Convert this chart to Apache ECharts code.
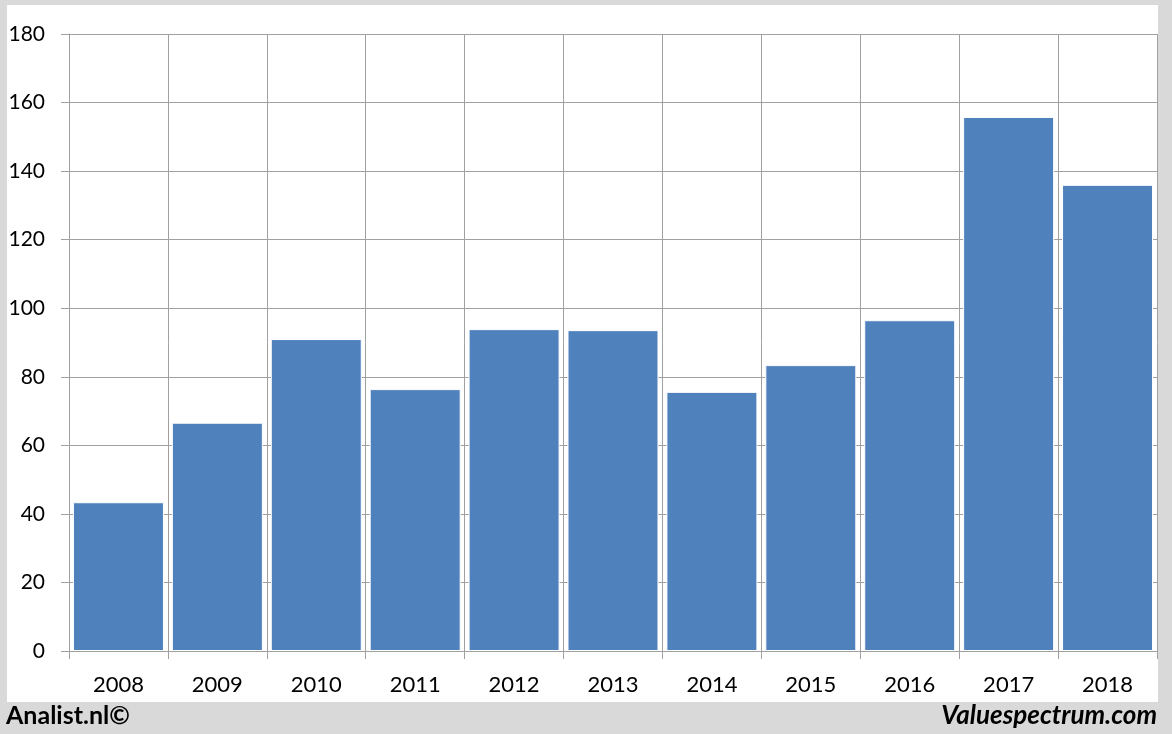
<!DOCTYPE html>
<html>
<head>
<meta charset="utf-8">
<style>html,body{margin:0;padding:0;background:#d9d9d9;}#c{width:1172px;height:734px;}</style>
<script src="https://cdn.jsdelivr.net/npm/echarts@6/dist/echarts.min.js"></script>
</head>
<body>
<div id="c"></div>
<script>
const years = ['2008','2009','2010','2011','2012','2013','2014','2015','2016','2017','2018'];
const values = [43.4, 66.6, 91.0, 76.4, 93.9, 93.6, 75.6, 83.4, 96.5, 155.8, 136.0];
const yTicks = {min: 0, max: 180, step: 20};

const chart = echarts.init(document.getElementById('c'), null, {renderer: 'canvas'});
const font = 'Lato, "Liberation Sans", sans-serif';
chart.setOption({
  backgroundColor: '#d9d9d9',
  animation: false,
  graphic: [
    {type: 'rect', z: -10, shape: {x: 7, y: 5, width: 1151, height: 697}, style: {fill: '#ffffff'}},
    {type: 'text', left: 6, top: 703, style: {text: 'Analist.nl©', font: 'bold 25px ' + font, fill: '#000'}},
    {type: 'text', right: 15, top: 703, style: {text: 'Valuespectrum.com', font: 'italic bold 26px ' + font, fill: '#000'}}
  ],
  grid: {left: 69, right: 15, top: 34, bottom: 83},
  xAxis: {
    type: 'category',
    data: years,
    axisLine: {show: true, lineStyle: {color: '#a0a0a0', width: 1}},
    axisTick: {show: true, length: 8, interval: 0, lineStyle: {color: '#a0a0a0'}},
    splitLine: {show: true, interval: 0, lineStyle: {color: '#a0a0a0', width: 1}},
    axisLabel: {color: '#000', fontSize: 22, fontFamily: font, margin: 23, interval: 0}
  },
  yAxis: {
    type: 'value',
    min: yTicks.min, max: yTicks.max, interval: yTicks.step,
    axisLine: {show: true, lineStyle: {color: '#a0a0a0', width: 1}},
    axisTick: {show: true, length: 8, lineStyle: {color: '#a0a0a0'}},
    splitLine: {show: true, lineStyle: {color: '#a0a0a0', width: 1}},
    axisLabel: {color: '#000', fontSize: 21, fontFamily: font, margin: 24}
  },
  series: [{
    type: 'bar',
    data: values,
    barCategoryGap: '8%',
    itemStyle: {color: '#4f81bd', borderColor: '#ffffff', borderWidth: 1}
  }]
});
</script>
</body>
</html>
